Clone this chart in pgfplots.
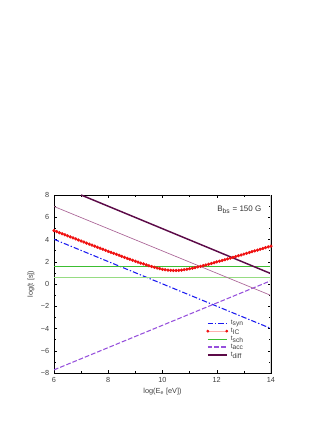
\documentclass[border=0pt]{standalone}
\usepackage{fontspec}
\setmainfont{Liberation Sans}
\usepackage{pgfplots}
\pgfplotsset{compat=1.18}
\definecolor{syncol}{HTML}{1A1AF0}
\definecolor{iccol}{HTML}{F01010}
\definecolor{icline}{HTML}{FFB0B0}
\definecolor{schcol}{HTML}{3CBE32}
\definecolor{schlight}{HTML}{96DC82}
\definecolor{acccol}{HTML}{9650DC}
\definecolor{diffcol}{HTML}{5C0A48}
\definecolor{mauve}{HTML}{AA6496}
\pgfplotsset{shortlegend/.style={legend image code/.code={\draw[##1] (0cm,0cm) -- (0.5cm,0cm);}}}

\pgfplotstableread{
x y
6.0 4.800
6.1 4.706
6.2 4.612
6.3 4.518
6.4 4.425
6.5 4.331
6.6 4.238
6.7 4.144
6.8 4.051
6.9 3.957
7.0 3.864
7.1 3.771
7.2 3.678
7.3 3.585
7.4 3.492
7.5 3.400
7.6 3.307
7.7 3.215
7.8 3.123
7.9 3.031
8.0 2.940
8.1 2.848
8.2 2.758
8.3 2.667
8.4 2.577
8.5 2.487
8.6 2.398
8.7 2.310
8.8 2.222
8.9 2.135
9.0 2.049
9.1 1.964
9.2 1.881
9.3 1.800
9.4 1.720
9.5 1.643
9.6 1.569
9.7 1.500
9.8 1.435
9.9 1.376
10.0 1.324
10.1 1.281
10.2 1.247
10.3 1.226
10.4 1.216
10.5 1.217
10.6 1.231
10.7 1.254
10.8 1.286
10.9 1.325
11.0 1.370
11.1 1.419
11.2 1.473
11.3 1.530
11.4 1.590
11.5 1.651
11.6 1.714
11.7 1.779
11.8 1.845
11.9 1.912
12.0 1.980
12.1 2.048
12.2 2.117
12.3 2.187
12.4 2.257
12.5 2.328
12.6 2.398
12.7 2.470
12.8 2.541
12.9 2.613
13.0 2.685
13.1 2.757
13.2 2.830
13.3 2.902
13.4 2.975
13.5 3.048
13.6 3.121
13.7 3.194
13.8 3.268
13.9 3.341
14.0 3.414
}\icdata

\begin{document}
\begin{tikzpicture}
  \path[use as bounding box] (-40.5pt,-37.5pt) rectangle (204.75pt,279.75pt);
  \begin{axis}[
      scale only axis,
      width=162.75pt, height=133.5pt,
      xmin=6, xmax=14, ymin=-8, ymax=8,
      xtick={6,8,10,12,14},
      ytick={-8,-6,-4,-2,0,2,4,6,8},
      yticklabels={−8,−6,−4,−2,0,2,4,6,8},
      minor x tick num=1, minor y tick num=1,
      major tick length=2.5pt, minor tick length=1.5pt,
      tick style={black, line width=0.3pt},
      axis line style={line width=0.4pt},
      /pgf/number format/assume math mode=true,
      tick label style={font=\fontsize{5.5}{6.5}\selectfont, color=black!75},
      label style={font=\fontsize{5.5}{6.5}\selectfont, color=black!75},
      xlabel={log(E\textsubscript{e} [eV])},
      ylabel={log(t [s])},
      xlabel style={yshift=3pt},
      ylabel style={yshift=-2pt},
      legend style={at={(rel axis cs:0.695,0.06)}, anchor=south west,
        draw=none, fill=none, font=\fontsize{5}{6}\selectfont, color=black!75,
        row sep=-2.8pt, inner sep=1pt},
      legend cell align=left,
      shortlegend,
      clip=true]
    \addplot[syncol, line width=0.8pt, dash pattern=on 4pt off 1.5pt on 1pt off 1.5pt]
      coordinates {(6,4.02) (14,-4.0)};
    \addlegendentry{t\textsubscript{syn}}
    \addplot[icline, line width=0.5pt, mark=*, mark size=0.95pt,
      mark options={draw=iccol, fill=iccol},
      legend image code/.code={
        \draw[icline, line width=0.5pt] (0cm,0cm) -- (0.5cm,0cm);
        \fill[iccol] (0cm,0cm) circle (0.8pt) (0.5cm,0cm) circle (0.8pt);}]
      table {\icdata};
    \addlegendentry{t\textsubscript{IC}}
    \addplot[schlight, line width=1.1pt, forget plot] coordinates {(6,1.58) (14,1.58)};
    \addplot[schcol, line width=0.7pt] coordinates {(6,1.56) (14,1.56)};
    \addlegendentry{t\textsubscript{sch}}
    \addplot[acccol, line width=0.8pt, dash pattern=on 3.5pt off 1.5pt]
      coordinates {(6,-7.72) (14,0.3)};
    \addlegendentry{t\textsubscript{acc}}
    \addplot[diffcol, line width=1.1pt] coordinates {(7,8) (14,0.93)};
    \addlegendentry{t\textsubscript{diff}}
    \addplot[schlight, line width=0.7pt, forget plot] coordinates {(6,0.57) (14,0.57)};
    \addplot[mauve, line width=0.5pt, forget plot] coordinates {(6,6.97) (14,-1.03)};
    \draw[black!18, line width=1.6pt] (rel axis cs:1,0) -- (rel axis cs:1,1);
    \node[anchor=west, font=\fontsize{6}{7}\selectfont, color=black!80]
      at (axis cs:11.85,6.65) {B\textsubscript{bs} = 150 G};
  \end{axis}
\end{tikzpicture}
\end{document}
